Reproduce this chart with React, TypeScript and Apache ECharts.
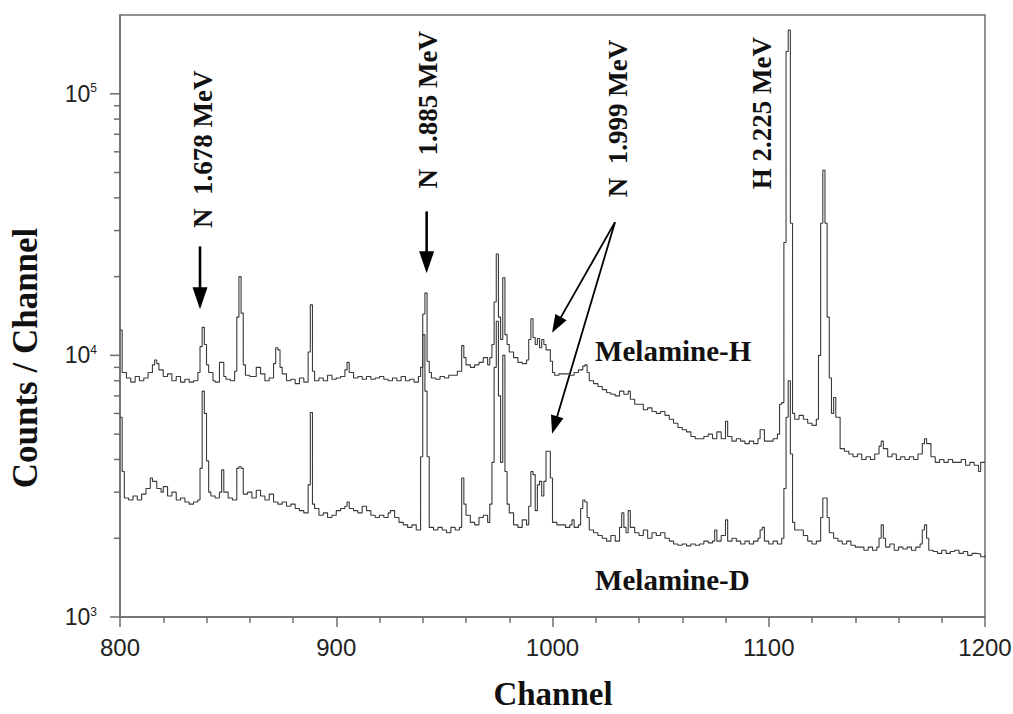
import React, { useEffect, useRef } from 'react';
import * as echarts from 'echarts';

// ---------- data ----------
const channelMin = 800;
const channelMax = 1200;
const channelInterval = 100;
const countMin = 1000;
const countMax = 200000;
const yTickValues = [
  1000, 2000, 3000, 4000, 5000, 6000, 7000, 8000, 9000,
  10000, 20000, 30000, 40000, 50000, 60000, 70000, 80000, 90000,
  100000,
];

const melamineH: [number, number][] = [
  [800, 12500], [801, 8600], [803, 8200], [805, 7900], [807, 8300], [809, 8000], [811, 8200], [813, 8600],
  [815, 9200], [816, 9600], [817, 9300], [818, 8800], [820, 8300], [822, 8500], [824, 8000], [826, 8300],
  [828, 7900], [830, 8100], [832, 7900], [834, 8000], [836, 8600], [837, 10800], [838, 12800], [839, 11000],
  [840, 9200], [841, 8600], [843, 8000], [844, 7900], [846, 9400], [848, 8300], [849, 8100], [851, 8000],
  [853, 8700], [854, 14000], [855, 20000], [856, 14500], [857, 9200], [858, 8400], [860, 8300], [862, 8300],
  [863, 9000], [865, 8500], [867, 8000], [869, 8200], [871, 9300], [872, 10700], [873, 10500], [874, 9000],
  [875, 8500], [877, 8000], [879, 8100], [881, 7800], [883, 8200], [885, 7900], [887, 10300], [888, 15600],
  [889, 8700], [890, 8000], [892, 8200], [894, 8000], [896, 8400], [898, 8100],
  [900, 8200], [902, 8300], [904, 8800], [905, 9400], [906, 8600], [908, 8200], [910, 8300], [912, 8100],
  [914, 8300], [916, 8100], [918, 8200], [920, 8300], [922, 8100], [924, 8000], [926, 8200], [928, 8000],
  [930, 8300], [932, 8000], [934, 8100], [936, 7900], [938, 8300], [939, 9000], [940, 14400], [941, 17300],
  [942, 9500], [943, 8600], [944, 8200], [946, 8100], [948, 8300], [950, 8200], [952, 8400], [954, 8400],
  [956, 8700], [958, 10900], [959, 9800], [960, 9200], [962, 9000], [964, 9200], [966, 9400], [968, 9800],
  [970, 9200], [971, 9800], [972, 11000], [973, 16000], [974, 24400], [975, 14000], [976, 11500], [977, 19800],
  [978, 12000], [979, 11000], [980, 10300], [982, 9800], [984, 9400], [986, 9300], [988, 9600], [989, 11500],
  [990, 13800], [991, 11700], [992, 11000], [993, 11600], [994, 10700], [995, 11500], [996, 11000], [997, 10500],
  [999, 9500], [1000, 8600], [1001, 8400], [1003, 8500], [1006, 8500], [1008, 8400], [1010, 8600], [1012, 8800],
  [1014, 9100], [1015, 9200], [1016, 8600], [1017, 8000], [1019, 7800], [1021, 7600], [1023, 7400], [1025, 7200],
  [1027, 7100], [1029, 7000], [1031, 7300], [1033, 7100], [1035, 7300], [1036, 6800], [1038, 6500], [1040, 6500],
  [1042, 6200], [1044, 6300], [1046, 6100], [1048, 6000], [1050, 6100], [1052, 5900], [1054, 5700], [1056, 5500],
  [1058, 5300], [1060, 5200], [1062, 5100], [1064, 4900], [1066, 4800], [1068, 4800], [1070, 4900], [1072, 5000],
  [1074, 4800], [1076, 5100], [1078, 4800], [1080, 5600], [1081, 4900], [1083, 4700], [1085, 4800], [1087, 4700],
  [1089, 4600], [1091, 4700], [1093, 4600], [1095, 4800], [1096, 5200], [1098, 4700],
  [1100, 4700], [1102, 4800], [1104, 5000], [1105, 6500], [1106, 6600], [1107, 27000], [1108, 145000], [1109, 175000],
  [1110, 32000], [1111, 6000], [1112, 5700], [1114, 5900], [1116, 5700], [1118, 5500], [1120, 5400], [1122, 5700],
  [1123, 10000], [1124, 32000], [1125, 51000], [1126, 32000], [1127, 14000], [1128, 8200], [1129, 6000], [1130, 6900],
  [1131, 5800], [1133, 4400], [1135, 4300], [1137, 4200], [1139, 4100], [1141, 4200], [1143, 4000], [1145, 4100],
  [1147, 4000], [1149, 4200], [1151, 4500], [1152, 4700], [1153, 4400], [1155, 4100], [1157, 4200], [1159, 4000],
  [1161, 4100], [1163, 4000], [1165, 4100], [1167, 4000], [1169, 4200], [1171, 4600], [1172, 4800], [1173, 4600],
  [1175, 4100], [1177, 3900], [1179, 4000], [1181, 3900], [1183, 4000], [1185, 3900], [1187, 3900], [1189, 4000],
  [1191, 3800], [1193, 3900], [1195, 3800], [1197, 3600], [1198, 3900], [1200, 3900],
];

const melamineD: [number, number][] = [
  [800, 5800], [801, 3600], [802, 2850], [804, 2800], [806, 2900], [808, 2800], [810, 2950], [812, 3100],
  [814, 3400], [815, 3300], [817, 3100], [819, 3000], [820, 3150], [822, 2900], [824, 3000], [826, 2800],
  [828, 2850], [830, 2750], [832, 2700], [834, 2750], [836, 2800], [837, 3700], [838, 7300], [839, 6000],
  [840, 3950], [841, 3000], [842, 2900], [844, 2850], [846, 3000], [847, 3650], [848, 3000], [850, 2850],
  [852, 2800], [854, 3700], [855, 3750], [856, 3700], [857, 2950], [859, 3000], [861, 2850], [863, 3050],
  [865, 2900], [867, 2800], [869, 2950], [871, 2750], [873, 2700], [875, 2750], [877, 2650], [879, 2700],
  [881, 2600], [883, 2550], [885, 2500], [887, 3200], [888, 6050], [889, 2700], [890, 2600], [892, 2450],
  [894, 2500], [896, 2400], [898, 2450],
  [900, 2550], [902, 2600], [904, 2650], [905, 2750], [906, 2600], [908, 2550], [910, 2500], [912, 2650],
  [914, 2550], [916, 2450], [918, 2400], [920, 2450], [922, 2400], [924, 2500], [925, 2550], [927, 2400],
  [929, 2300], [931, 2250], [933, 2200], [935, 2250], [937, 2150], [939, 4100], [940, 12000], [941, 7300],
  [942, 4100], [943, 2200], [945, 2150], [947, 2200], [949, 2150], [951, 2100], [953, 2200], [955, 2150],
  [957, 2200], [958, 3400], [959, 2700], [960, 2450], [962, 2300], [964, 2250], [966, 2400], [968, 2450],
  [970, 2300], [971, 2700], [972, 3900], [973, 9000], [974, 13500], [975, 7000], [976, 3900], [977, 10000],
  [978, 3600], [979, 2700], [980, 2500], [982, 2250], [984, 2200], [986, 2350], [988, 2250], [989, 2650],
  [990, 3600], [991, 3500], [992, 2550], [993, 3200], [994, 3300], [995, 2900], [996, 3300], [997, 4300],
  [998, 4300], [999, 3400], [1000, 2300], [1002, 2250],
  [1004, 2250], [1006, 2200], [1008, 2250], [1009, 2350], [1010, 2200], [1012, 2250], [1013, 2600], [1014, 2800],
  [1015, 2750], [1016, 2400], [1017, 2150], [1019, 2100], [1021, 2050], [1023, 2000], [1025, 1950], [1027, 2050],
  [1029, 1950], [1031, 2200], [1032, 2500], [1033, 2200], [1034, 2100], [1035, 2550], [1036, 2200], [1038, 2100],
  [1040, 2050], [1042, 2150], [1044, 2000], [1046, 2100], [1048, 2050], [1050, 2100], [1052, 2000], [1054, 1950],
  [1056, 1900], [1058, 1880], [1060, 1900], [1062, 1870], [1064, 1900], [1066, 1880], [1068, 1900], [1070, 1950],
  [1072, 1920], [1074, 1950], [1075, 2150], [1076, 1950], [1078, 2050], [1080, 2350], [1081, 1950], [1083, 2000],
  [1085, 1950], [1087, 1900], [1089, 1950], [1091, 1900], [1093, 1950], [1095, 2000], [1096, 2150], [1097, 2200],
  [1098, 1950],
  [1100, 1900], [1102, 1950], [1104, 1900], [1106, 2000], [1107, 3100], [1108, 5800], [1109, 8000], [1110, 4200],
  [1111, 2300], [1112, 2150], [1114, 2150], [1116, 2050], [1118, 1950], [1120, 1900], [1122, 1950], [1124, 2400],
  [1125, 2850], [1126, 2850], [1127, 2400], [1128, 2100], [1130, 2000], [1132, 1950], [1134, 1900], [1136, 1950],
  [1138, 1880], [1140, 1850], [1142, 1850], [1144, 1800], [1146, 1850], [1148, 1800], [1150, 1850], [1151, 2000],
  [1152, 2250], [1153, 2000], [1154, 1850], [1156, 1900], [1158, 1800], [1160, 1850], [1162, 1820], [1164, 1850],
  [1166, 1800], [1168, 1850], [1170, 1900], [1171, 2150], [1172, 2250], [1173, 2000], [1174, 1800], [1176, 1780],
  [1178, 1750], [1180, 1800], [1182, 1750], [1184, 1780], [1186, 1800], [1188, 1750], [1190, 1780], [1192, 1720],
  [1194, 1750], [1196, 1740], [1198, 1700], [1200, 1720],
];

// annotations, anchored in data coordinates [channel, counts]
const peakLabels = [
  { text: 'N  1.678 MeV', channel: 838.6, count: 61400 },
  { text: 'N  1.885 MeV', channel: 942.4, count: 86900 },
  { text: 'N  1.999 MeV', channel: 1030.1, count: 80400 },
  { text: 'H 2.225 MeV', channel: 1096.9, count: 84300 },
];
const arrows = [
  { from: [837, 26100], to: [837, 15000], bold: true },
  { from: [941.8, 35500], to: [941.8, 20600], bold: true },
  { from: [1028.9, 32300], to: [999.8, 12200], bold: false },
  { from: [1028.9, 32300], to: [999.8, 5020], bold: false },
];
const seriesLabels = [
  { text: 'Melamine-H', channel: 1019.7, count: 10400 },
  { text: 'Melamine-D', channel: 1019.7, count: 1390 },
];
const xTitle = 'Channel';
const yTitle = 'Counts / Channel';

// ---------- styles ----------
const SERIF = "'Liberation Serif', 'Times New Roman', serif";
const SANS = "'Liberation Sans', Arial, sans-serif";
const AXIS_COLOR = '#6e6e6e';
const TRACE_COLOR = '#3a3a3a';

function arrowElements(p1: number[], p2: number[], bold: boolean) {
  const headLen = bold ? 22 : 18;
  const headHalf = bold ? 7.5 : 6.5;
  const width = bold ? 2.6 : 1.8;
  const dx = p2[0] - p1[0];
  const dy = p2[1] - p1[1];
  const L = Math.hypot(dx, dy);
  const ux = dx / L;
  const uy = dy / L;
  const bx = p2[0] - ux * headLen;
  const by = p2[1] - uy * headLen;
  return [
    {
      type: 'line',
      shape: { x1: p1[0], y1: p1[1], x2: bx + ux * 2, y2: by + uy * 2 },
      style: { stroke: '#000', lineWidth: width },
      silent: true,
    },
    {
      type: 'polygon',
      shape: {
        points: [
          [p2[0], p2[1]],
          [bx - uy * headHalf, by + ux * headHalf],
          [bx + uy * headHalf, by - ux * headHalf],
        ],
      },
      style: { fill: '#000' },
      silent: true,
    },
  ];
}

export default function App() {
  const ref = useRef<HTMLDivElement>(null);

  useEffect(() => {
    document.body.style.margin = '0';
    if (!ref.current) return;
    const chart = echarts.init(ref.current, undefined, { renderer: 'svg' });

    const isPow10 = (v: number) => {
      const e = Math.round(Math.log10(v));
      return Math.abs(v - Math.pow(10, e)) < 1e-6 * v;
    };

    const option: any = {
      animation: false,
      backgroundColor: '#ffffff',
      grid: {
        left: 120,
        right: 28,
        top: 15,
        bottom: 97,
        show: true,
        borderColor: AXIS_COLOR,
        borderWidth: 1.5,
        outerBoundsMode: 'none',
      },
      xAxis: {
        type: 'value',
        min: channelMin,
        max: channelMax,
        interval: channelInterval,
        axisLine: { show: true, lineStyle: { color: AXIS_COLOR, width: 1.5 } },
        axisTick: { show: true, length: 10, lineStyle: { color: AXIS_COLOR, width: 1.5 } },
        minorTick: { show: true, splitNumber: 5, length: 6, lineStyle: { color: AXIS_COLOR, width: 1.5 } },
        axisLabel: {
          fontSize: 24,
          color: '#222',
          margin: 18,
          fontFamily: SANS,
          formatter: (v: number) => String(v),
        },
        splitLine: { show: false },
        minorSplitLine: { show: false },
      },
      yAxis: {
        type: 'log',
        logBase: 10,
        min: countMin,
        max: countMax,
        axisLine: { show: true, lineStyle: { color: AXIS_COLOR, width: 1.5 } },
        axisTick: { show: false },
        splitLine: { show: false },
        axisLabel: {
          margin: 23,
          fontSize: 23,
          color: '#222',
          fontFamily: SANS,
          formatter: (v: number) => (isPow10(v) ? `10{sup|${Math.round(Math.log10(v))}}` : ''),
          rich: {
            sup: { fontSize: 12, color: '#222', fontFamily: SANS, verticalAlign: 'top', padding: [0, 0, 8, 0] },
          },
        },
      },
      series: [
        {
          type: 'line',
          name: 'Melamine-H',
          data: melamineH,
          step: 'end',
          symbol: 'none',
          showSymbol: false,
          lineStyle: { color: TRACE_COLOR, width: 1.1 },
          silent: true,
          z: 3,
        },
        {
          type: 'line',
          name: 'Melamine-D',
          data: melamineD,
          step: 'end',
          symbol: 'none',
          showSymbol: false,
          lineStyle: { color: TRACE_COLOR, width: 1.1 },
          silent: true,
          z: 3,
        },
        {
          type: 'custom',
          name: 'yTicks',
          data: yTickValues.map((v) => [channelMin, v]),
          clip: false,
          silent: true,
          z: 5,
          renderItem: (params: any, api: any) => {
            const v = api.value(1);
            const p = api.coord([api.value(0), v]);
            const len = isPow10(v) ? 10 : 6;
            return {
              type: 'line',
              shape: { x1: p[0] - len, y1: p[1], x2: p[0], y2: p[1] },
              style: { stroke: AXIS_COLOR, lineWidth: 1.5 },
            };
          },
        },
      ],
    };
    chart.setOption(option);

    const toPx = (c: number, v: number) => chart.convertToPixel({ gridIndex: 0 } as any, [c, v]) as number[];

    const graphic: any[] = [];
    peakLabels.forEach((l) => {
      const p = toPx(l.channel, l.count);
      graphic.push({
        type: 'text',
        x: p[0],
        y: p[1],
        rotation: Math.PI / 2,
        silent: true,
        style: {
          text: l.text,
          fill: '#111',
          font: `bold 27px ${SERIF}`,
          textAlign: 'center',
          textVerticalAlign: 'middle',
        },
      });
    });
    arrows.forEach((a) => {
      const p1 = toPx(a.from[0], a.from[1]);
      const p2 = toPx(a.to[0], a.to[1]);
      graphic.push(...arrowElements(p1, p2, a.bold));
    });
    seriesLabels.forEach((l) => {
      const p = toPx(l.channel, l.count);
      graphic.push({
        type: 'text',
        x: p[0],
        y: p[1],
        silent: true,
        style: {
          text: l.text,
          fill: '#111',
          font: `bold 29px ${SERIF}`,
          textAlign: 'left',
          textVerticalAlign: 'middle',
        },
      });
    });
    graphic.push({
      type: 'text',
      x: 25.5,
      y: 358,
      rotation: Math.PI / 2,
      silent: true,
      style: {
        text: yTitle,
        fill: '#111',
        font: `bold 35px ${SERIF}`,
        lineHeight: 30,
        textAlign: 'center',
        textVerticalAlign: 'middle',
      },
    });
    graphic.push({
      type: 'text',
      x: 553,
      y: 694,
      silent: true,
      style: {
        text: xTitle,
        fill: '#111',
        font: `bold 33px ${SERIF}`,
        lineHeight: 26,
        textAlign: 'center',
        textVerticalAlign: 'middle',
      },
    });
    chart.setOption({ graphic });

    return () => chart.dispose();
  }, []);

  return <div ref={ref} style={{ width: 1013, height: 714 }} />;
}
